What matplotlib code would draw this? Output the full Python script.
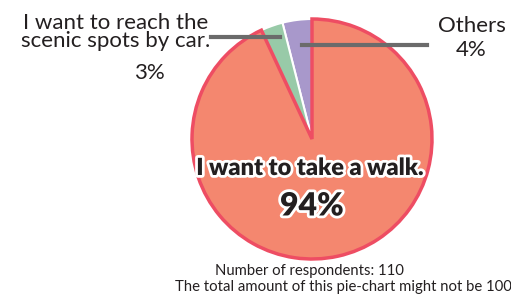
import matplotlib.pyplot as plt
import matplotlib.patheffects as pe

labels = ["Others", "I want to reach the\nscenic spots by car.", "I want to take a walk."]
values = [4, 3, 94]
colors = ["#a898cb", "#98caa8", "#f4876f"]
respondents = 110

W, H = 511, 298
fig = plt.figure(figsize=(W / 100, H / 100), dpi=100)
plt.rcParams['font.family'] = ['Lato', 'DejaVu Sans']


def px(x, y):
    return x / W, 1 - y / H


# pie axes: centre (312, 139), radius 120 px
ax = fig.add_axes([192 / W, (H - 259) / H, 240 / W, 240 / H])
wedges, _ = ax.pie(values, colors=colors, startangle=90, counterclock=True,
                   wedgeprops=dict(edgecolor="white", linewidth=1.5))
wedges[2].set_edgecolor("#ee4d63")
wedges[2].set_linewidth(2.5)
wedges[2].set_zorder(3)
ax.set_xlim(-1, 1)
ax.set_ylim(-1, 1)
ax.set_aspect("equal")
ax.axis("off")

# leader lines
ax.plot([-0.84, -0.27], [0.85, 0.85], color="#6b6b6b", lw=3, clip_on=False, zorder=5)
ax.plot([-0.08, 0.96], [0.785, 0.785], color="#6b6b6b", lw=3, clip_on=False, zorder=5)

txt = "#231f20"
fig.text(*px(116, 32), labels[1], ha="center", va="center", fontsize=16,
         color=txt, linespacing=0.85)
fig.text(*px(149, 73), f"{values[1]}%", ha="center", va="center", fontsize=16, color=txt)
fig.text(*px(472, 26), labels[0], ha="center", va="center", fontsize=16, color=txt)
fig.text(*px(471, 50), f"{values[0]}%", ha="center", va="center", fontsize=16, color=txt)

stroke = [pe.withStroke(linewidth=4, foreground="white")]
fig.text(*px(310, 168), labels[2], ha="center", va="center", fontsize=17,
         fontweight="heavy", color=txt, path_effects=stroke, zorder=10)
fig.text(*px(312, 206), f"{values[2]}%", ha="center", va="center", fontsize=23,
         fontweight="heavy", color=txt, path_effects=stroke, zorder=10)

fig.text(*px(309, 271), f"Number of respondents: {respondents}", ha="center", va="center",
         fontsize=10.7, color=txt)
fig.text(*px(175, 287), "The total amount of this pie-chart might not be 100%", ha="left",
         va="center", fontsize=10.7, color=txt)

fig.savefig("out.png", dpi=100, facecolor="white")
